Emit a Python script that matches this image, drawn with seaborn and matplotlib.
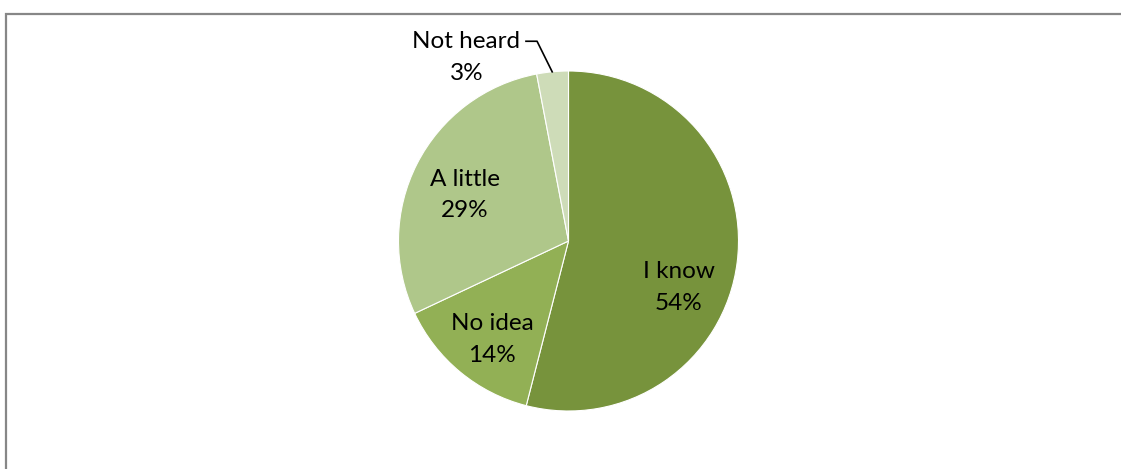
import matplotlib
matplotlib.use("Agg")
import matplotlib.pyplot as plt
from matplotlib.patches import Rectangle
import numpy as np
import seaborn as sns

# Survey answers, clockwise from 12 o'clock
categories = ["I know", "No idea", "A little", "Not heard"]
shares = [54, 14, 29, 3]
slice_colors = ["#77933C", "#92B055", "#AFC78A", "#CEDCB8"]

sns.set_theme(style="white")
plt.rcParams["font.family"] = ["Lato", "DejaVu Sans"]

W, H = 1121, 469
fig = plt.figure(figsize=(W / 100, H / 100), dpi=100)
ax = fig.add_axes([0, 0, 1, 1])

palette = sns.color_palette(slice_colors)
wedges, _ = ax.pie(
    shares,
    startangle=90,
    counterclock=False,
    colors=palette,
    radius=1.0,
    wedgeprops=dict(edgecolor="white", linewidth=0.8),
)

# pixel geometry of the pie (limits set after pie(), which resets them)
cx, cy, rad = 568.5, 241.0, 170.0
ax.set_xlim(-cx / rad, (W - cx) / rad)
ax.set_ylim(-(H - cy) / rad, cy / rad)
ax.set_aspect("equal")
ax.axis("off")

# label anchors (data units, pie radius = 1)
label_pos = [(0.65, -0.275), (-0.45, -0.58), (-0.61, 0.27), (-0.60, 1.08)]
for name, val, (lx, ly) in zip(categories, shares, label_pos):
    ax.text(lx, ly, f"{name}\n{val}%", ha="center", va="center",
            fontsize=17.5, color="black", linespacing=1.62)

# leader line for the thin slice
mid = 90.0 - 360.0 * (sum(shares[:3]) + shares[3] / 2) / 100.0
ex, ey = np.cos(np.radians(mid)), np.sin(np.radians(mid))
ax.plot([-0.255, -0.185, ex * 0.995], [1.175, 1.175, ey * 0.995],
        color="black", linewidth=1.2, solid_capstyle="butt")

# chart-area frame
fig.patches.append(Rectangle((6 / W, -0.05), 1.2, (H - 14) / H + 0.05,
                             transform=fig.transFigure, fill=False,
                             edgecolor="#878787", linewidth=1.6))

fig.savefig("out.png", dpi=100, facecolor="white")
